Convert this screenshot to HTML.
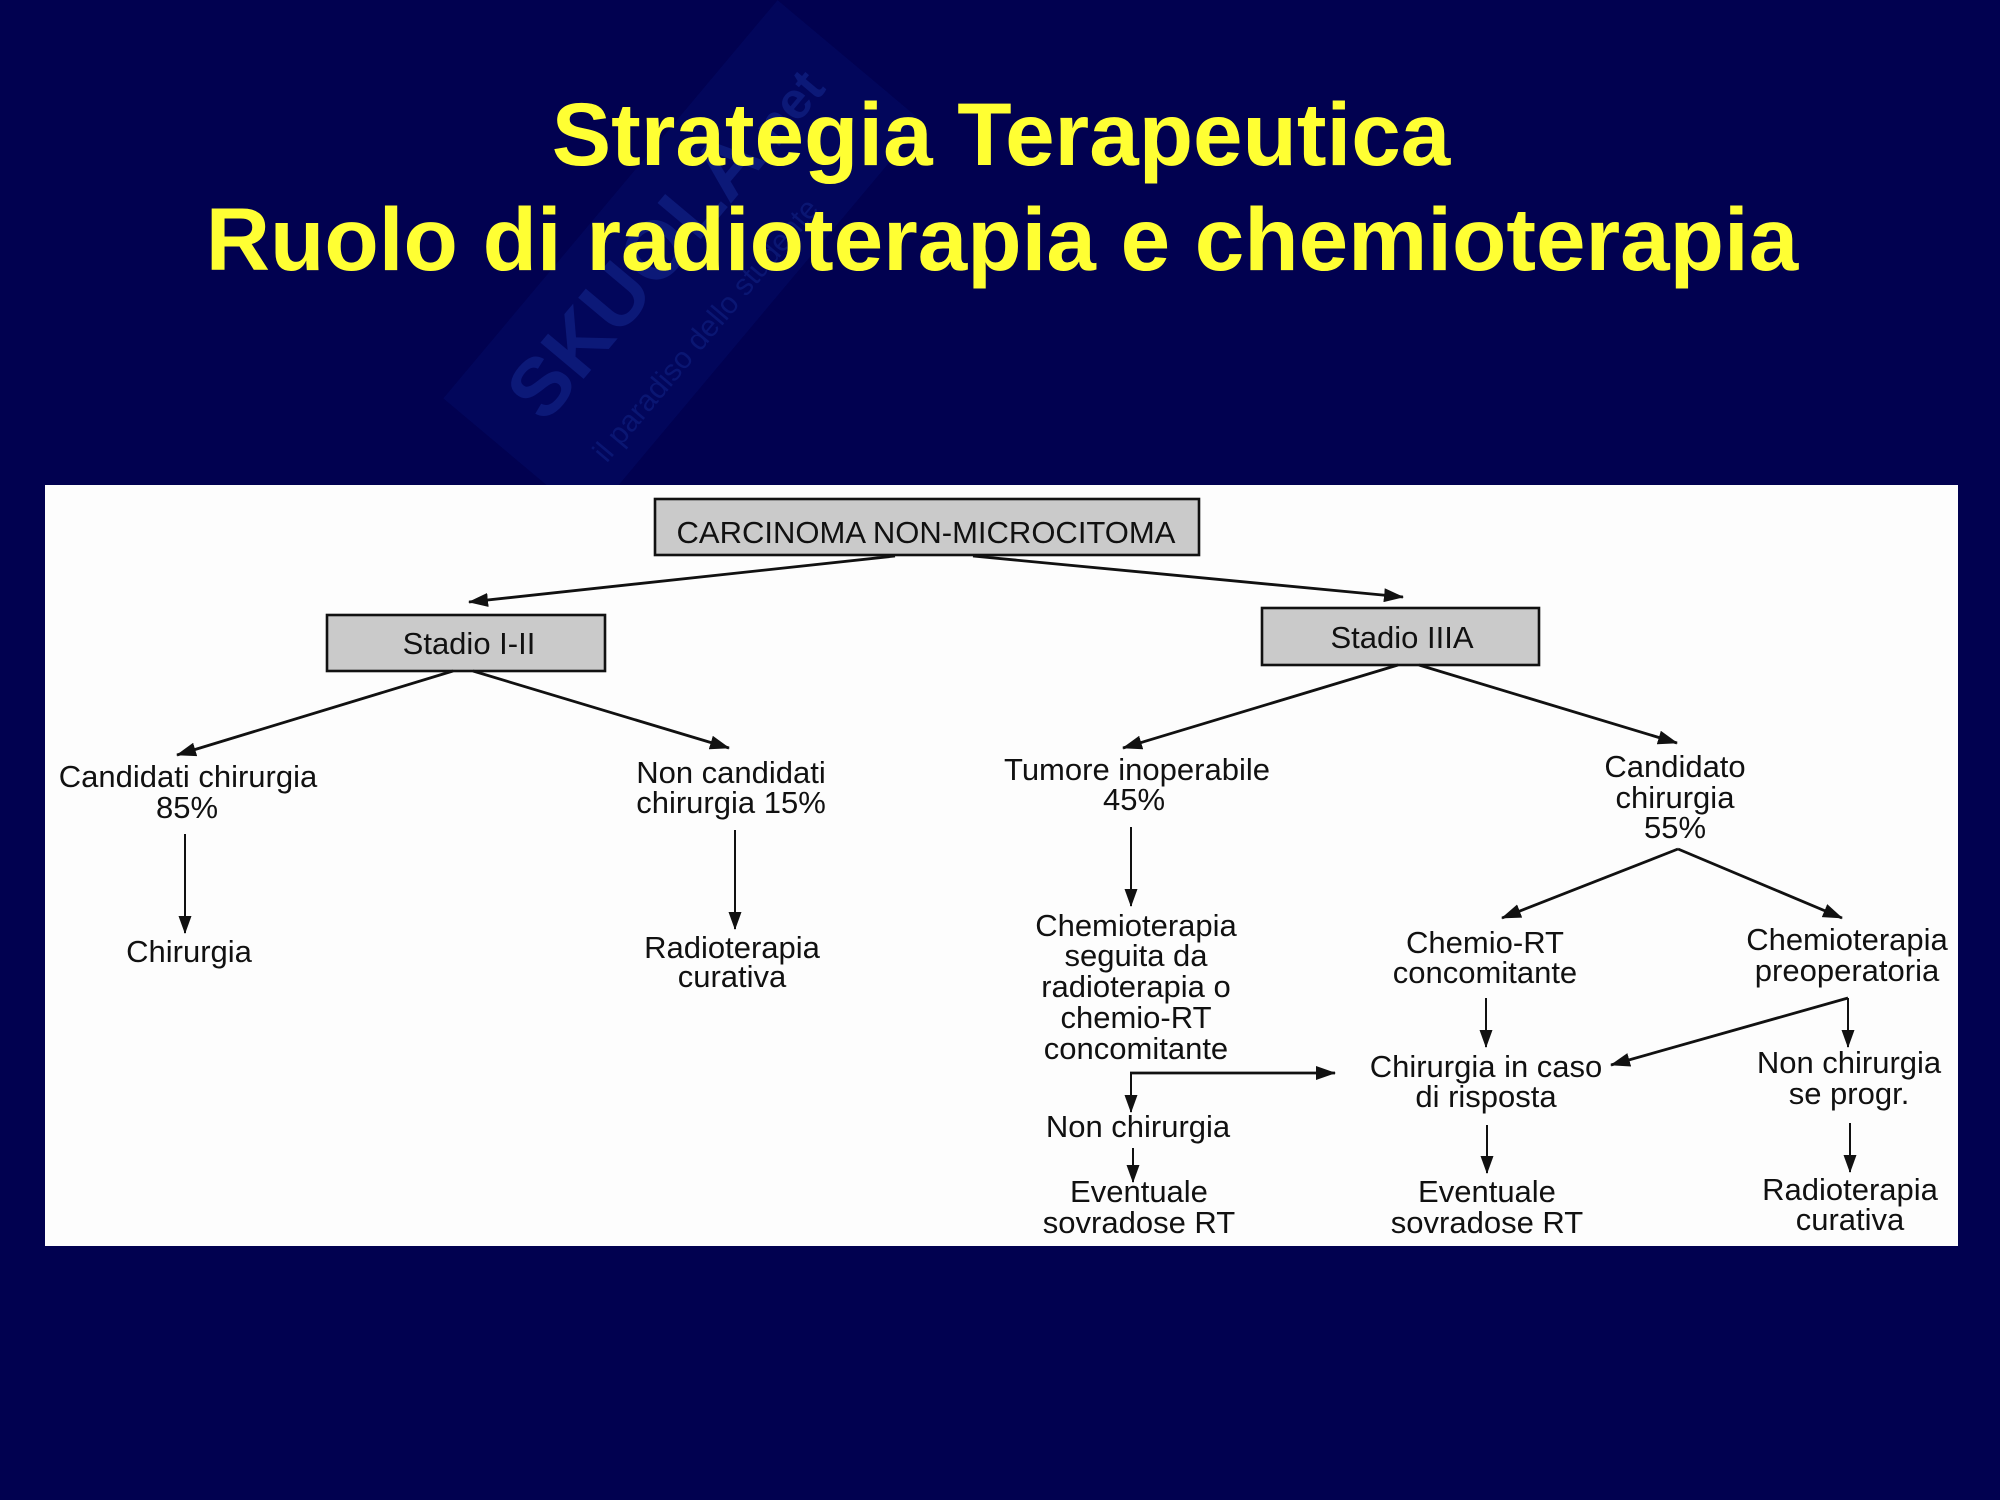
<!DOCTYPE html>
<html>
<head>
<meta charset="utf-8">
<style>
  html, body { margin:0; padding:0; background:#010150; }
  body { width:2000px; height:1500px; overflow:hidden; }
  svg { display:block; }
  .t { font-family:"Liberation Sans", Arial, sans-serif; font-size:31px; fill:#111; text-anchor:middle; }
  .ttl { font-family:"Liberation Sans", Arial, sans-serif; font-weight:bold; font-size:89px; fill:#ffff33; text-anchor:middle; }
  .d { stroke:#111; stroke-width:2.8; fill:none; }
  .v { stroke:#111; stroke-width:2; fill:none; }
</style>
</head>
<body>
<svg width="2000" height="1500" viewBox="0 0 2000 1500" xmlns="http://www.w3.org/2000/svg">
  <defs>
    <marker id="ah" viewBox="0 0 20 14" refX="19" refY="7" markerWidth="20" markerHeight="14" markerUnits="userSpaceOnUse" orient="auto">
      <path d="M0,0 L20,7 L0,14 z" fill="#111"/>
    </marker>
    <marker id="av" viewBox="0 0 18 13" refX="17" refY="6.5" markerWidth="18" markerHeight="13" markerUnits="userSpaceOnUse" orient="auto">
      <path d="M0,0 L18,6.5 L0,13 z" fill="#111"/>
    </marker>
  </defs>

  <!-- background -->
  <rect x="0" y="0" width="2000" height="1500" fill="#010150"/>

  <!-- watermark (faint) -->
  <g transform="translate(545,425) rotate(-50)">
    <rect x="-45" y="-95" width="520" height="190" fill="#061070" opacity="0.35"/>
    <text x="0" y="0" font-family="'Liberation Sans', Arial, sans-serif" font-weight="bold" font-size="82" fill="#0f1e80" opacity="0.8">SKUOLA<tspan font-size="52">.net</tspan></text>
    <text x="10" y="72" font-family="'Liberation Sans', Arial, sans-serif" font-size="30" fill="#0d1b7a" opacity="0.8">il paradiso dello studente</text>
  </g>

  <!-- title -->
  <text class="ttl" x="1001" y="165">Strategia Terapeutica</text>
  <text class="ttl" x="1002" y="270">Ruolo di radioterapia e chemioterapia</text>

  <!-- white panel -->
  <rect x="45" y="485" width="1913" height="761" fill="#fdfdfd"/>

  <!-- boxes -->
  <rect x="655" y="499" width="544" height="56" fill="#cacaca" stroke="#111" stroke-width="2.6"/>
  <text class="t" x="926" y="543">CARCINOMA NON-MICROCITOMA</text>

  <rect x="327" y="615" width="278" height="56" fill="#cacaca" stroke="#111" stroke-width="2.6"/>
  <text class="t" x="469" y="654">Stadio I-II</text>

  <rect x="1262" y="608" width="277" height="57" fill="#cacaca" stroke="#111" stroke-width="2.6"/>
  <text class="t" x="1402" y="648">Stadio IIIA</text>

  <!-- connectors -->
  <line class="d" x1="895" y1="556" x2="469" y2="602" marker-end="url(#ah)"/>
  <line class="d" x1="973" y1="556" x2="1403" y2="597" marker-end="url(#ah)"/>

  <line class="d" x1="453" y1="671" x2="177" y2="755" marker-end="url(#ah)"/>
  <line class="d" x1="473" y1="671" x2="729" y2="748" marker-end="url(#ah)"/>

  <line class="v" x1="185" y1="834" x2="185" y2="933" marker-end="url(#av)"/>
  <line class="v" x1="735" y1="830" x2="735" y2="929" marker-end="url(#av)"/>

  <line class="d" x1="1398" y1="665" x2="1123" y2="748" marker-end="url(#ah)"/>
  <line class="d" x1="1419" y1="665" x2="1677" y2="743" marker-end="url(#ah)"/>

  <line class="v" x1="1131" y1="827" x2="1131" y2="906" marker-end="url(#av)"/>

  <line class="d" x1="1678" y1="849" x2="1502" y2="918" marker-end="url(#ah)"/>
  <line class="d" x1="1678" y1="849" x2="1842" y2="918" marker-end="url(#ah)"/>

  <line class="v" x1="1486" y1="998" x2="1486" y2="1047" marker-end="url(#av)"/>

  <line class="d" x1="1848" y1="998" x2="1611" y2="1065" marker-end="url(#ah)"/>
  <line class="v" x1="1848" y1="998" x2="1848" y2="1047" marker-end="url(#av)"/>

  <line class="d" x1="1130" y1="1073" x2="1335" y2="1073" marker-end="url(#ah)"/>
  <line class="v" x1="1131" y1="1072" x2="1131" y2="1112" marker-end="url(#av)"/>

  <line class="v" x1="1133" y1="1148" x2="1133" y2="1182" marker-end="url(#av)"/>
  <line class="v" x1="1487" y1="1125" x2="1487" y2="1173" marker-end="url(#av)"/>
  <line class="v" x1="1850" y1="1123" x2="1850" y2="1172" marker-end="url(#av)"/>

  <!-- left branch labels -->
  <text class="t" x="188" y="787">Candidati chirurgia</text>
  <text class="t" x="187" y="818">85%</text>
  <text class="t" x="189" y="962">Chirurgia</text>

  <text class="t" x="731" y="783">Non candidati</text>
  <text class="t" x="731" y="813">chirurgia 15%</text>
  <text class="t" x="732" y="958">Radioterapia</text>
  <text class="t" x="732" y="987">curativa</text>

  <!-- right branch labels -->
  <text class="t" x="1137" y="780">Tumore inoperabile</text>
  <text class="t" x="1134" y="810">45%</text>

  <text class="t" x="1675" y="777">Candidato</text>
  <text class="t" x="1675" y="808">chirurgia</text>
  <text class="t" x="1675" y="838">55%</text>

  <text class="t" x="1136" y="936">Chemioterapia</text>
  <text class="t" x="1136" y="966">seguita da</text>
  <text class="t" x="1136" y="997">radioterapia o</text>
  <text class="t" x="1136" y="1028">chemio-RT</text>
  <text class="t" x="1136" y="1059">concomitante</text>

  <text class="t" x="1485" y="953">Chemio-RT</text>
  <text class="t" x="1485" y="983">concomitante</text>

  <text class="t" x="1847" y="950">Chemioterapia</text>
  <text class="t" x="1847" y="981">preoperatoria</text>

  <text class="t" x="1486" y="1077">Chirurgia in caso</text>
  <text class="t" x="1486" y="1107">di risposta</text>

  <text class="t" x="1849" y="1073">Non chirurgia</text>
  <text class="t" x="1849" y="1104">se progr.</text>

  <text class="t" x="1138" y="1137">Non chirurgia</text>

  <text class="t" x="1139" y="1202">Eventuale</text>
  <text class="t" x="1139" y="1233">sovradose RT</text>

  <text class="t" x="1487" y="1202">Eventuale</text>
  <text class="t" x="1487" y="1233">sovradose RT</text>

  <text class="t" x="1850" y="1200">Radioterapia</text>
  <text class="t" x="1850" y="1230">curativa</text>
</svg>
</body>
</html>
